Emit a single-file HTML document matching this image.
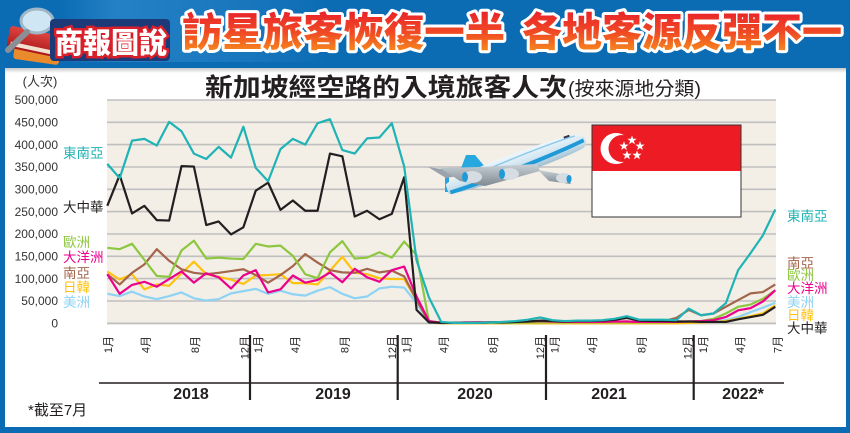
<!DOCTYPE html>
<html><head><meta charset="utf-8">
<style>
html,body{margin:0;padding:0;background:#0b6cb4;}
svg{display:block;}
text{font-family:"Liberation Sans","Noto Sans CJK TC",sans-serif;}
.cjk{font-family:"Liberation Sans","Noto Sans CJK TC",sans-serif;}
</style></head><body>
<svg width="850" height="433" viewBox="0 0 850 433" xmlns="http://www.w3.org/2000/svg">
<defs>
<linearGradient id="tg" x1="0" y1="0" x2="0" y2="1">
<stop offset="0" stop-color="#e8202a"/><stop offset="0.5" stop-color="#f04a24"/><stop offset="1" stop-color="#f7941d"/>
</linearGradient>
<linearGradient id="hb" x1="0" y1="0" x2="1" y2="0">
<stop offset="0" stop-color="#0b6cb4"/><stop offset="0.15" stop-color="#2a86c9"/><stop offset="0.5" stop-color="#1b78bf"/><stop offset="0.7" stop-color="#0b6cb4"/>
</linearGradient>
<linearGradient id="sh" x1="0" y1="0" x2="0" y2="1">
<stop offset="0" stop-color="#c8c8c8"/><stop offset="1" stop-color="#ffffff"/>
</linearGradient>
<linearGradient id="fus" x1="0" y1="0" x2="0" y2="1">
<stop offset="0" stop-color="#eef7fc"/><stop offset="0.55" stop-color="#cfe4f0"/><stop offset="1" stop-color="#9dbccd"/>
</linearGradient>
<linearGradient id="wing" x1="0" y1="0" x2="0" y2="1">
<stop offset="0" stop-color="#c9d1d7"/><stop offset="1" stop-color="#7f8991"/>
</linearGradient>
<linearGradient id="book" x1="0" y1="0" x2="0" y2="1">
<stop offset="0" stop-color="#e0453f"/><stop offset="1" stop-color="#a8181c"/>
</linearGradient>
</defs>

<!-- background frame -->
<rect x="0" y="0" width="850" height="433" fill="#0b6cb4"/>
<rect x="60" y="0" width="380" height="62" fill="url(#hb)" opacity="0.8"/>
<!-- white panel -->
<rect x="5" y="68" width="841" height="359" fill="#ffffff"/>
<rect x="5" y="68" width="841" height="5" fill="url(#sh)"/>

<!-- logo: books + magnifier -->
<rect x="14" y="44" width="46" height="18" rx="3" fill="#e98a2c" transform="rotate(8 37 53)"/>
<rect x="8" y="30" width="46" height="22" rx="3" fill="url(#book)" transform="rotate(12 31 41)"/>
<rect x="10" y="46" width="42" height="4" fill="#f3e1d0" transform="rotate(12 31 48)"/>
<ellipse cx="37" cy="21" rx="16" ry="12" fill="#cfe6f4" stroke="#9db7c8" stroke-width="3"/>
<line x1="27" y1="32" x2="8" y2="50" stroke="#8a8f96" stroke-width="6" stroke-linecap="round"/>
<!-- 商報圖說 -->
<rect x="50" y="19" width="120" height="42" rx="4" fill="#1c3a78"/>
<text x="55" y="53" font-size="29" font-weight="900" fill="#ffffff" stroke="#d9202a" stroke-width="5" paint-order="stroke" textLength="112" lengthAdjust="spacingAndGlyphs" class="cjk">商報圖說</text>

<!-- main title -->
<g class="cjk" font-size="40" font-weight="900">
<text x="182" y="46" fill="url(#tg)" stroke="#ffffff" stroke-width="6" paint-order="stroke" stroke-linejoin="round" textLength="323" lengthAdjust="spacingAndGlyphs">訪星旅客恢復一半</text>
<text x="522" y="46" fill="url(#tg)" stroke="#ffffff" stroke-width="6" paint-order="stroke" stroke-linejoin="round" textLength="320" lengthAdjust="spacingAndGlyphs">各地客源反彈不一</text>
</g>

<!-- chart title -->
<text x="205" y="96" font-size="25" font-weight="bold" fill="#231f20" textLength="362" lengthAdjust="spacingAndGlyphs">新加坡經空路的入境旅客人次</text>
<text x="568" y="95" font-size="19" fill="#231f20" textLength="133" lengthAdjust="spacingAndGlyphs">(按來源地分類)</text>

<!-- plot area -->
<rect x="107" y="100" width="669" height="225" fill="#f3efe7"/>
<g stroke="#bfbfbf" stroke-width="1.6">
<line x1="107" y1="100.0" x2="776" y2="100.0"/>
<line x1="107" y1="122.3" x2="776" y2="122.3"/>
<line x1="107" y1="144.6" x2="776" y2="144.6"/>
<line x1="107" y1="167.0" x2="776" y2="167.0"/>
<line x1="107" y1="189.3" x2="776" y2="189.3"/>
<line x1="107" y1="211.6" x2="776" y2="211.6"/>
<line x1="107" y1="234.0" x2="776" y2="234.0"/>
<line x1="107" y1="256.3" x2="776" y2="256.3"/>
<line x1="107" y1="278.6" x2="776" y2="278.6"/>
<line x1="107" y1="301.0" x2="776" y2="301.0"/>
<line x1="107" y1="323.3" x2="776" y2="323.3"/>
</g>

<!-- y axis labels -->
<text x="40" y="86" font-size="13" fill="#333" text-anchor="middle">(人次)</text>
<g font-size="12" fill="#333" text-anchor="end">
<text x="58" y="104.2">500,000</text>
<text x="58" y="126.5">450,000</text>
<text x="58" y="148.8">400,000</text>
<text x="58" y="171.2">350,000</text>
<text x="58" y="193.5">300,000</text>
<text x="58" y="215.8">250,000</text>
<text x="58" y="238.2">200,000</text>
<text x="58" y="260.5">150,000</text>
<text x="58" y="282.8">100,000</text>
<text x="58" y="305.2">50,000</text>
<text x="58" y="327.5">0</text>
</g>

<!-- plane -->
<g>
<polygon points="460,171 466,155 475,155 486,168" fill="#29a8e0"/>
<rect x="445" y="172" width="4" height="20" fill="#2aa3dc"/>
<polygon points="428,167 448,170 458,176 446,178" fill="#9aa3ab"/>
<g transform="translate(515,165) rotate(-19)">
<path d="M-72,-4 C-60,-11 40,-13 62,-10 C75,-8 79,0 71,6 C50,11 -40,12 -72,6 Z" fill="url(#fus)"/>
<path d="M-70,3 C-30,4 30,2 73,-3 L73,1 C30,6 -30,8 -70,7 Z" fill="#1e9ad8"/>
<path d="M-40,-4 C0,-7 40,-9 66,-8" stroke="#8fc9ea" stroke-width="1.5" fill="none"/>
<rect x="55" y="-11" width="6" height="2" fill="#334"/>
</g>
<polygon points="538,170 566,175 571,184 549,181" fill="url(#wing)"/>
<polygon points="440,168 480,167 537,164 540,171 485,186 460,181" fill="url(#wing)"/>
<ellipse cx="472" cy="177" rx="10" ry="6" fill="#d5dde3"/>
<ellipse cx="465" cy="177" rx="3" ry="5" fill="#1e9ad8"/>
<ellipse cx="509" cy="174" rx="10" ry="6" fill="#d5dde3"/>
<ellipse cx="502" cy="174" rx="3" ry="5" fill="#1e9ad8"/>
<ellipse cx="564" cy="178" rx="8" ry="5" fill="#d5dde3"/>
<ellipse cx="569" cy="179" rx="2.5" ry="4" fill="#1e9ad8"/>
</g>

<!-- flag -->
<rect x="592" y="125" width="149" height="92" fill="#ffffff" stroke="#333" stroke-width="1"/>
<rect x="592.5" y="125.5" width="148" height="45.5" fill="#ed1c24"/>
<circle cx="616" cy="148.5" r="15.5" fill="#ffffff"/>
<circle cx="622" cy="148.5" r="13.5" fill="#ed1c24"/>
<g fill="#ffffff">
<polygon points="632,135.5 633.2,138.8 636.6,138.8 633.9,140.9 634.9,144.2 632,142.2 629.1,144.2 630.1,140.9 627.4,138.8 630.8,138.8"/>
<polygon points="640,141.3 641.2,144.6 644.6,144.6 641.9,146.7 642.9,150 640,148 637.1,150 638.1,146.7 635.4,144.6 638.8,144.6"/>
<polygon points="624,141.3 625.2,144.6 628.6,144.6 625.9,146.7 626.9,150 624,148 621.1,150 622.1,146.7 619.4,144.6 622.8,144.6"/>
<polygon points="637,150.5 638.2,153.8 641.6,153.8 638.9,155.9 639.9,159.2 637,157.2 634.1,159.2 635.1,155.9 632.4,153.8 635.8,153.8"/>
<polygon points="627,150.5 628.2,153.8 631.6,153.8 628.9,155.9 629.9,159.2 627,157.2 624.1,159.2 625.1,155.9 622.4,153.8 625.8,153.8"/>
</g>

<!-- data series -->
<g transform="translate(107.3,323.3) scale(12.37,-0.4466)" fill="none" stroke-width="2.2" stroke-linejoin="round">
<polyline vector-effect="non-scaling-stroke" stroke="#8ed3f4" points="0,66 1,61 2,71 3,60 4,54 5,61 6,69 7,56 8,51 9,54 10,67 11,72 12,77 13,66 14,73 15,65 16,62 17,73 18,81 19,66 20,56 21,60 22,78 23,82 24,80 25,45 26,3 27,0 28,0 29,0 30,1 31,1 32,1 33,1 34,1 35,1 36,1 37,1 38,1 39,1 40,1 41,1 42,1 43,1 44,1 45,1 46,1 47,1 48,2 49,4 50,7 51,14 52,25 53,35 54,46"/>
<polyline vector-effect="non-scaling-stroke" stroke="#ffc20e" points="0,116 1,98 2,110 3,76 4,87 5,84 6,112 7,138 8,110 9,104 10,98 11,88 12,107 13,108 14,110 15,90 16,90 17,87 18,118 19,149 20,113 21,110 22,101 23,99 24,99 25,52 26,3 27,0 28,0 29,0 30,0 31,0 32,0 33,0 34,0 35,0 36,0 37,0 38,0 39,0 40,0 41,0 42,0 43,0 44,0 45,0 46,0 47,1 48,2 49,3 50,5 51,10 52,16 53,22 54,40"/>
<polyline vector-effect="non-scaling-stroke" stroke="#a3654b" points="0,110 1,87 2,113 3,132 4,166 5,140 6,121 7,113 8,110 9,113 10,117 11,121 12,108 13,91 14,108 15,128 16,155 17,136 18,119 19,114 20,113 21,122 22,114 23,118 24,105 25,52 26,4 27,1 28,1 29,1 30,2 31,2 32,2 33,2 34,3 35,3 36,3 37,3 38,3 39,3 40,3 41,3 42,4 43,3 44,3 45,5 46,12 47,30 48,18 49,22 50,37 51,52 52,67 53,70 54,87"/>
<polyline vector-effect="non-scaling-stroke" stroke="#8dc63f" points="0,169 1,166 2,178 3,142 4,106 5,104 6,163 7,185 8,145 9,147 10,145 11,144 12,178 13,172 14,174 15,151 16,110 17,101 18,159 19,184 20,145 21,147 22,159 23,147 24,183 25,153 26,5 27,1 28,1 29,1 30,1 31,1 32,1 33,1 34,2 35,2 36,2 37,2 38,2 39,2 40,2 41,2 42,2 43,2 44,2 45,2 46,3 47,4 48,5 49,10 50,22 51,37 52,42 53,55 54,74"/>
<polyline vector-effect="non-scaling-stroke" stroke="#ec008c" points="0,110 1,66 2,86 3,93 4,82 5,99 6,116 7,91 8,112 9,103 10,78 11,107 12,119 13,69 14,76 15,107 16,91 17,97 18,114 19,92 20,122 21,103 22,93 23,119 24,127 25,60 26,5 27,1 28,1 29,2 30,2 31,2 32,3 33,3 34,4 35,5 36,4 37,3 38,3 39,3 40,3 41,4 42,4 43,3 44,3 45,3 46,3 47,4 48,5 49,7 50,14 51,29 52,34 53,49 54,74"/>
<polyline vector-effect="non-scaling-stroke" stroke="#231f20" points="0,263 1,332 2,246 3,263 4,231 5,230 6,352 7,351 8,220 9,228 10,199 11,215 12,297 13,315 14,254 15,275 16,252 17,252 18,380 19,374 20,239 21,252 22,233 23,245 24,327 25,30 26,2 27,1 28,1 29,1 30,1 31,2 32,2 33,3 34,4 35,6 36,5 37,4 38,5 39,5 40,6 41,8 42,12 43,6 44,5 45,5 46,4 47,4 48,3 49,3 50,3 51,9 52,14 53,19 54,37"/>
<polyline vector-effect="non-scaling-stroke" stroke="#1fb3b5" points="0,357 1,325 2,409 3,413 4,398 5,451 6,430 7,380 8,368 9,395 10,371 11,440 12,348 13,318 14,390 15,413 16,400 17,448 18,457 19,388 20,380 21,414 22,416 23,448 24,351 25,141 26,58 27,3 28,1 29,1 30,1 31,2 32,3 33,5 34,8 35,13 36,7 37,5 38,6 39,6 40,7 41,10 42,16 43,8 44,8 45,8 46,7 47,33 48,18 49,22 50,45 51,119 52,157 53,197 54,255"/>
</g>

<!-- left legend -->
<g font-size="13.5">
<text x="63" y="158" fill="#1fb3b5">東南亞</text>
<text x="63" y="212" fill="#231f20">大中華</text>
<text x="63" y="247" fill="#8dc63f">歐洲</text>
<text x="63" y="262" fill="#ec008c">大洋洲</text>
<text x="63" y="278" fill="#a3654b">南亞</text>
<text x="63" y="292" fill="#ffc20e">日韓</text>
<text x="63" y="307" fill="#8ed3f4">美洲</text>
</g>
<!-- right legend -->
<g font-size="13.5">
<text x="787" y="221" fill="#1fb3b5">東南亞</text>
<text x="787" y="268" fill="#a3654b">南亞</text>
<text x="787" y="280" fill="#8dc63f">歐洲</text>
<text x="787" y="293" fill="#ec008c">大洋洲</text>
<text x="787" y="307" fill="#8ed3f4">美洲</text>
<text x="787" y="320" fill="#ffc20e">日韓</text>
<text x="787" y="333" fill="#231f20">大中華</text>
</g>

<!-- x axis -->
<g font-size="11" fill="#231f20" text-anchor="end">
<text transform="translate(112.2,336) rotate(-90)">1月</text>
<text transform="translate(149.3,336) rotate(-90)">4月</text>
<text transform="translate(198.8,336) rotate(-90)">8月</text>
<text transform="translate(248.3,336) rotate(-90)">12月</text>
<text transform="translate(261.9,336) rotate(-90)">1月</text>
<text transform="translate(299.0,336) rotate(-90)">4月</text>
<text transform="translate(348.5,336) rotate(-90)">8月</text>
<text transform="translate(396.0,336) rotate(-90)">12月</text>
<text transform="translate(410.3,336) rotate(-90)">1月</text>
<text transform="translate(447.4,336) rotate(-90)">4月</text>
<text transform="translate(496.9,336) rotate(-90)">8月</text>
<text transform="translate(544.0,336) rotate(-90)">12月</text>
<text transform="translate(558.7,336) rotate(-90)">1月</text>
<text transform="translate(595.8,336) rotate(-90)">4月</text>
<text transform="translate(645.3,336) rotate(-90)">8月</text>
<text transform="translate(691.5,336) rotate(-90)">12月</text>
<text transform="translate(707.1,336) rotate(-90)">1月</text>
<text transform="translate(744.2,336) rotate(-90)">4月</text>
<text transform="translate(781.3,336) rotate(-90)">7月</text>
</g>
<g stroke="#231f20" stroke-width="2.2">
<line x1="250" y1="335" x2="250" y2="400"/>
<line x1="397.7" y1="335" x2="397.7" y2="400"/>
<line x1="546" y1="335" x2="546" y2="400"/>
<line x1="693.7" y1="335" x2="693.7" y2="400"/>
</g>
<line x1="99" y1="383" x2="784" y2="383" stroke="#231f20" stroke-width="1.5"/>
<g font-size="16" font-weight="bold" fill="#231f20" text-anchor="middle">
<text x="191" y="399">2018</text>
<text x="333" y="399">2019</text>
<text x="475" y="399">2020</text>
<text x="609" y="399">2021</text>
<text x="743" y="399">2022*</text>
</g>
<text x="28" y="415" font-size="15" fill="#231f20">*截至7月</text>
</svg>
</body></html>
